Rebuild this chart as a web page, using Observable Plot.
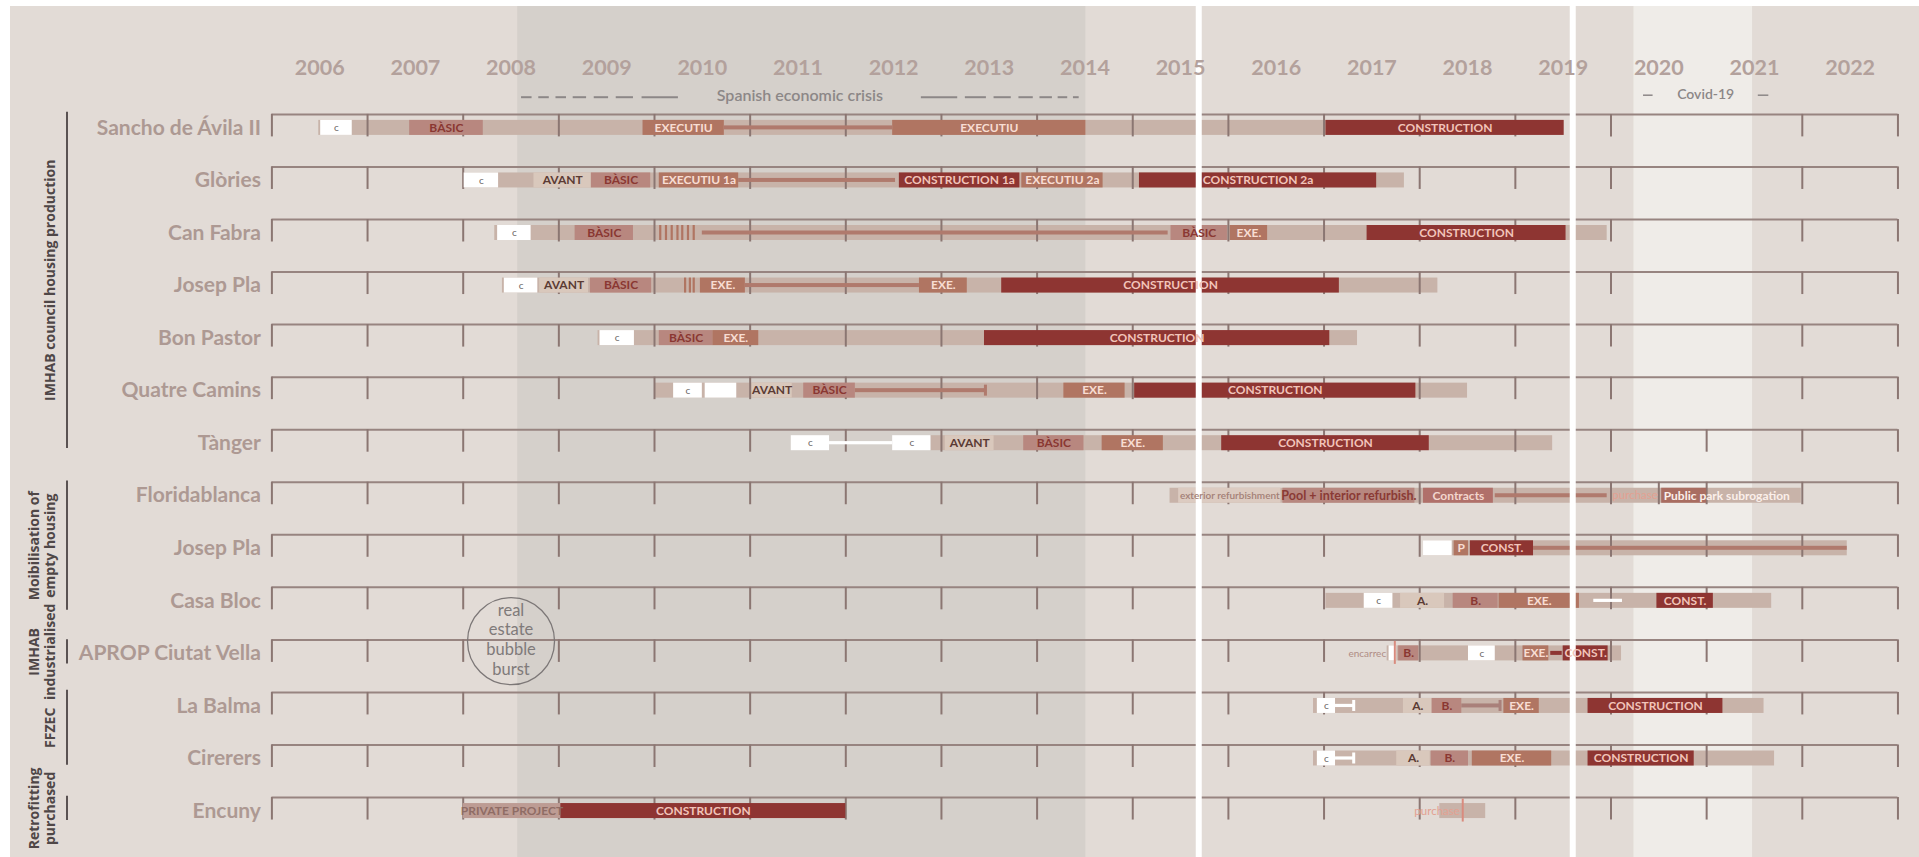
<!DOCTYPE html>
<html>
<head>
<meta charset="utf-8">
<script src="https://cdn.jsdelivr.net/npm/d3@7"></script>
<script src="https://cdn.jsdelivr.net/npm/@observablehq/plot@0.6"></script>
<style>
  html, body { margin: 0; padding: 0; background: #ffffff; overflow: hidden; }
  #chart { position: absolute; left: 10px; top: 6px; }
  #chart svg { display: block; max-width: none; }
</style>
</head>
<body>
<div id="chart"></div>
<script>
// ---------------- DATA ----------------
const rowNames = ["Sancho de Ávila II", "Glòries", "Can Fabra", "Josep Pla", "Bon Pastor", "Quatre Camins", "Tànger",
  "Floridablanca", "Josep Pla", "Casa Bloc", "APROP Ciutat Vella", "La Balma", "Cirerers", "Encuny"];

const groupLabels = ["IMHAB council housing production", "Moibilisation of\nempty housing", "IMHAB\nindustrialised", "FFZEC", "Retrofitting\npurchased"];
const groupFrom = [-0.3, 6.72, 9.74, 10.7, 12.72];
const groupTo = [6.1, 9.18, 10.2, 12.13, 13.18];

const yearLabels = [2006, 2007, 2008, 2009, 2010, 2011, 2012, 2013, 2014, 2015, 2016, 2017, 2018, 2019, 2020, 2021, 2022];
const tickYears = [2006, 2007, 2008, 2009, 2010, 2011, 2012, 2013, 2014, 2015, 2016, 2017, 2018, 2019, 2020, 2021, 2022, 2023];
const extraTicks = [[7, 2020.50]];

const crisisPeriod = [2008.57, 2014.51];
const covidPeriod = [2020.24, 2021.48];
const whiteDividers = [2015.69, 2019.60];

// overall span of each project (light bar): [row, start, end]
const spans = [
  [0, 2006.49, 2019.51], [1, 2008.00, 2017.84], [2, 2008.33, 2019.96], [3, 2008.41, 2018.19],
  [4, 2009.41, 2017.35], [5, 2010.01, 2018.50], [6, 2012.89, 2019.39], [7, 2015.39, 2021.99],
  [8, 2018.04, 2022.47], [9, 2017.02, 2021.68], [10, 2017.66, 2020.11], [11, 2016.89, 2021.60],
  [12, 2016.89, 2021.71], [13, 2018.21, 2018.69]
];

// phases: [row, start, end, kind, label]
const phases = [
  [0, 2006.51, 2006.84, "c", "c"], [0, 2007.44, 2008.21, "basic", "BÀSIC"], [0, 2009.88, 2010.73, "exec", "EXECUTIU"],
  [0, 2012.49, 2014.51, "exec", "EXECUTIU"], [0, 2017.02, 2019.51, "cons", "CONSTRUCTION"],
  [1, 2008.01, 2008.37, "c", "c"], [1, 2008.74, 2009.34, "avant", "AVANT"], [1, 2009.34, 2009.96, "basic", "BÀSIC"],
  [1, 2010.05, 2010.88, "exec", "EXECUTIU 1a"], [1, 2012.56, 2013.82, "cons", "CONSTRUCTION 1a"],
  [1, 2013.84, 2014.69, "exec", "EXECUTIU 2a"], [1, 2015.07, 2017.55, "cons", "CONSTRUCTION 2a"],
  [2, 2008.36, 2008.71, "c", "c"], [2, 2009.17, 2009.78, "basic", "BÀSIC"], [2, 2015.40, 2015.99, "basic", "BÀSIC"],
  [2, 2016.02, 2016.41, "exec", "EXE."], [2, 2017.45, 2019.53, "cons", "CONSTRUCTION"],
  [3, 2008.43, 2008.78, "c", "c"], [3, 2008.80, 2009.31, "avant", "AVANT"], [3, 2009.33, 2009.97, "basic", "BÀSIC"],
  [3, 2010.48, 2010.95, "exec", "EXE."], [3, 2012.77, 2013.27, "exec", "EXE."], [3, 2013.63, 2017.16, "cons", "CONSTRUCTION"],
  [4, 2009.43, 2009.79, "c", "c"], [4, 2010.05, 2010.61, "basic", "BÀSIC"], [4, 2010.61, 2011.09, "exec", "EXE."],
  [4, 2013.45, 2017.06, "cons", "CONSTRUCTION"],
  [5, 2010.20, 2010.50, "c", "c"], [5, 2010.53, 2010.86, "c", ""], [5, 2011.02, 2011.44, "avant", "AVANT"],
  [5, 2011.56, 2012.10, "basic", "BÀSIC"], [5, 2014.28, 2014.92, "exec", "EXE."], [5, 2015.02, 2017.96, "cons", "CONSTRUCTION"],
  [6, 2011.43, 2011.83, "c", "c"], [6, 2012.49, 2012.89, "c", "c"], [6, 2013.04, 2013.55, "avant", "AVANT"],
  [6, 2013.86, 2014.49, "basic", "BÀSIC"], [6, 2014.68, 2015.32, "exec", "EXE."], [6, 2015.93, 2018.10, "cons", "CONSTRUCTION"],
  [7, 2015.48, 2016.55, "pale", "exterior refurbishment"], [7, 2016.57, 2017.95, "pool", "Pool + interior refurbish."],
  [7, 2018.04, 2018.77, "contract", "Contracts"], [7, 2020.53, 2021.00, "park", "Public park subrogation"],
  [8, 2018.04, 2018.34, "c", ""], [8, 2018.36, 2018.51, "exec", "P"], [8, 2018.53, 2019.19, "cons", "CONST."],
  [9, 2017.42, 2017.72, "c", "c"], [9, 2017.80, 2018.26, "avant", "A."], [9, 2018.35, 2018.82, "basic", "B."],
  [9, 2018.83, 2019.67, "exec", "EXE."], [9, 2020.48, 2021.07, "cons", "CONST."],
  [10, 2017.68, 2017.76, "c", ""], [10, 2017.78, 2017.99, "basic", "B."], [10, 2018.51, 2018.79, "c", "c"],
  [10, 2019.08, 2019.35, "exec", "EXE."], [10, 2019.50, 2019.97, "cons", "CONST."],
  [11, 2016.93, 2017.12, "c", "c"], [11, 2017.83, 2018.13, "avant", "A."], [11, 2018.13, 2018.44, "basic", "B."],
  [11, 2018.88, 2019.25, "exec", "EXE."], [11, 2019.76, 2021.17, "cons", "CONSTRUCTION"],
  [12, 2016.93, 2017.12, "c", "c"], [12, 2017.76, 2018.11, "avant", "A."], [12, 2018.12, 2018.51, "basic", "B."],
  [12, 2018.55, 2019.38, "exec", "EXE."], [12, 2019.76, 2020.87, "cons", "CONSTRUCTION"],
  [13, 2008.00, 2009.02, "private", "PRIVATE PROJECT"], [13, 2009.02, 2012.00, "cons", "CONSTRUCTION"]
];

// waiting / link lines inside bars: [row, start, end, kind]
const links = [
  [0, 2010.73, 2012.49, "exec"], [1, 2010.88, 2012.52, "exec"], [2, 2010.50, 2015.37, "exec"],
  [3, 2010.95, 2012.77, "exec"], [5, 2012.10, 2013.46, "exec"], [6, 2011.83, 2012.49, "white"],
  [7, 2018.79, 2019.96, "exec"], [8, 2019.19, 2022.47, "exec"], [9, 2019.82, 2020.12, "white"],
  [10, 2019.37, 2019.49, "cons"], [11, 2017.12, 2017.31, "white"], [11, 2018.44, 2018.84, "basic"],
  [12, 2017.12, 2017.31, "white"]
];
// end caps of link lines: [row, year, kind]
const caps = [[5, 2013.46, "exec"], [11, 2017.31, "white"], [11, 2018.84, "basic"], [12, 2017.31, "white"]];
// vertical markers: [row, year]
const markers = [[10, 2017.74], [13, 2018.45]];
// hatch strokes: [row, year]
const hatches = [[2, 2010.06], [2, 2010.12], [2, 2010.18], [2, 2010.24], [2, 2010.29], [2, 2010.35], [2, 2010.41],
  [3, 2010.32], [3, 2010.37], [3, 2010.41]];
// side notes: [row, year, text]
const notes = [[10, 2017.66, "encarrec"], [7, 2020.50, "purchase"], [13, 2018.43, "purchase"]];

// period annotations
const crisisDashes = [[2008.61, 2008.72], [2008.79, 2008.90], [2008.97, 2009.08], [2009.15, 2009.29], [2009.37, 2009.52],
  [2009.60, 2009.78], [2009.87, 2010.25], [2012.79, 2013.17], [2013.25, 2013.47], [2013.55, 2013.73], [2013.81, 2013.96],
  [2014.03, 2014.16], [2014.22, 2014.32], [2014.38, 2014.44]];
const covidDashes = [[2020.34, 2020.44], [2021.54, 2021.65]];
const crisisLabel = {year: 2011.52, text: "Spanish economic crisis"};
const covidLabel = {year: 2020.99, text: "Covid-19"};
const bubble = {year: 2008.50, text: "real\nestate\nbubble\nburst"};

// ---------------- LAYOUT ----------------
const W = 1909, H = 851;
const X0 = 261.4, YEAR_W = 95.65, ROW_Y0 = 121.4, ROW_H = 52.55;
const HB = 7.5 / ROW_H;            // half bar height, in row units
const px = p => p / ROW_H;         // pixels -> row units
const xAt = p => 2006 + (p - X0) / YEAR_W;
const yAt = p => (p - ROW_Y0) / ROW_H;

const FILL = {c: "#ffffff", avant: "#d9c8bc", basic: "#b8877f", exec: "#b07562", cons: "#8e3532", pale: "#dccbc1",
  pool: "#b7877f", contract: "#b0706a", park: "#a96d61", private: "#bd9c94"};
const INK = {c: "#6b6767", avant: "#5b3b34", basic: "#8a3732", exec: "#f8ddd3", cons: "#f2c4ba", pale: "#a37f76",
  pool: "#8a3a35", contract: "#f3d6cd", park: "#fbefea", private: "#8f6c65"};
const LINK = {exec: "#b07a6d", white: "#ffffff", cons: "#8e3532", basic: "#a9807a"};

const spanData = spans.map(([row, start, end]) => ({row, start, end}));
const phaseData = phases.map(([row, start, end, kind, label]) => ({row, start, end, kind, label}));
const linkData = links.map(([row, start, end, kind]) => ({row, start, end, kind}));
const capData = caps.map(([row, year, kind]) => ({row, year, kind}));
const markerData = markers.map(([row, year]) => ({row, year}));
const hatchData = hatches.map(([row, year]) => ({row, year}));
const noteData = notes.map(([row, year, text]) => ({row, year, text}));
const rowIdx = rowNames.map((_, i) => i);
const tickData = [];
rowIdx.forEach(r => tickYears.forEach(y => { if (!(r <= 5 && y === 2021)) tickData.push({row: r, year: y}); }));
extraTicks.forEach(([row, year]) => tickData.push({row, year}));
const groupData = groupLabels.map((label, i) => ({label, from: groupFrom[i], to: groupTo[i]}));

const labelled = phaseData.filter(d => d.label);
const boldKinds = ["avant", "basic", "exec", "cons", "contract", "private"];

const chart = Plot.plot({
  width: W, height: H, margin: 0,
  x: {domain: [2006, 2023], range: [X0, X0 + 17 * YEAR_W], axis: null},
  y: {domain: [0, 13], range: [ROW_Y0, ROW_Y0 + 13 * ROW_H], axis: null},
  color: {type: "identity"},
  style: {background: "#e2dbd6", fontFamily: "Lato, sans-serif", overflow: "visible"},
  marks: [
    // periods
    Plot.rect([crisisPeriod], {x1: d => d[0], x2: d => d[1], fill: "#d5d0cb"}),
    Plot.rect([covidPeriod], {x1: d => d[0], x2: d => d[1], fill: "#efece8"}),
    // light project spans
    Plot.rect(spanData, {x1: "start", x2: "end", y1: d => d.row - HB, y2: d => d.row + HB, fill: "#c8b3a9"}),
    // row baselines and year ticks
    Plot.ruleY(rowIdx, {y: d => d - px(13.5), x1: () => 2006, x2: () => 2023, stroke: "#978480", strokeWidth: 2}),
    Plot.ruleX(tickData, {x: "year", y1: d => d.row - px(13.5), y2: d => d.row + px(9), stroke: "#8b7672", strokeWidth: 2}),
    // hatching
    Plot.ruleX(hatchData, {x: "year", y1: d => d.row - HB, y2: d => d.row + HB, stroke: "#b07562", strokeWidth: 2.2}),
    // phases
    Plot.rect(phaseData, {x1: "start", x2: "end", y1: d => d.row - HB, y2: d => d.row + HB, fill: d => FILL[d.kind]}),
    // link lines
    Plot.rect(linkData, {x1: "start", x2: "end", y1: d => d.row - px(d.kind === "white" ? 1.6 : 2), y2: d => d.row + px(d.kind === "white" ? 1.6 : 2), fill: d => LINK[d.kind]}),
    Plot.ruleX(capData, {x: "year", y1: d => d.row - px(5.5), y2: d => d.row + px(5.5), stroke: d => LINK[d.kind], strokeWidth: 3}),
    Plot.ruleX(markerData, {x: "year", y1: d => d.row - px(12), y2: d => d.row + px(11), stroke: "#d98b7e", strokeWidth: 2}),
    // white dividers
    Plot.ruleX(whiteDividers, {x: d => d, stroke: "#ffffff", strokeWidth: 6}),
    // phase labels
    Plot.text(labelled.filter(d => d.kind === "c"), {x: d => (d.start + d.end) / 2, y: "row", text: "label", fill: INK.c, fontSize: 10}),
    Plot.text(labelled.filter(d => boldKinds.includes(d.kind)), {x: d => (d.start + d.end) / 2, y: "row", text: "label", fill: d => INK[d.kind], fontSize: 12, fontWeight: 700}),
    Plot.text(labelled.filter(d => d.kind === "pale"), {x: d => (d.start + d.end) / 2, y: "row", text: "label", fill: INK.pale, fontSize: 10, fontWeight: 600}),
    Plot.text(labelled.filter(d => d.kind === "pool"), {x: d => (d.start + d.end) / 2, y: "row", text: "label", fill: INK.pool, fontSize: 12.5, fontWeight: 700}),
    Plot.text(labelled.filter(d => d.kind === "park"), {x: "start", y: "row", text: "label", fill: INK.park, fontSize: 12, fontWeight: 700, textAnchor: "start", dx: 2}),
    Plot.text(noteData, {x: "year", y: "row", text: "text", fill: d => d.text === "encarrec" ? "#b08c84" : "#e3a192", fontSize: d => d.text === "encarrec" ? 10 : 11.5, textAnchor: "end", dx: -1}),
    // row names
    Plot.text(rowIdx, {x: () => 2006, y: d => d, text: d => rowNames[d], textAnchor: "end", dx: -11, fill: "#ad9993", fontSize: 21, fontWeight: 700}),
    // year labels
    Plot.text(yearLabels, {x: d => d + 0.5, y: () => yAt(61.3), text: d => String(d), fill: "#b3a19c", fontSize: 21.5, fontWeight: 700}),
    // crisis annotation
    Plot.ruleY(crisisDashes, {x1: d => d[0], x2: d => d[1], y: () => yAt(90.7), stroke: "#8c8787", strokeWidth: 2}),
    Plot.text([crisisLabel], {x: "year", y: () => yAt(89), text: "text", fill: "#8c8787", fontSize: 16, fontWeight: 600}),
    // covid annotation
    Plot.ruleY(covidDashes, {x1: d => d[0], x2: d => d[1], y: () => yAt(88.7), stroke: "#8c8787", strokeWidth: 1.5}),
    Plot.text([covidLabel], {x: "year", y: () => yAt(88.5), text: "text", fill: "#8c8787", fontSize: 14, fontWeight: 600}),
    // bubble annotation
    Plot.dot([bubble], {x: "year", y: () => yAt(634.7), r: 43.5, stroke: "#7c7777", strokeWidth: 1.3, fill: "none"}),
    Plot.text([bubble], {x: "year", y: () => yAt(632.5), text: "text", fill: "#7f7a7a", fontSize: 16.5, lineHeight: 1.2}),
    // groups
    Plot.ruleX(groupData, {x: () => xAt(56.5), y1: "from", y2: "to", stroke: "#5a5252", strokeWidth: 2}),
    Plot.text(groupData, {x: () => xAt(44), y: d => (d.from + d.to) / 2, text: "label", rotate: -90, lineAnchor: "bottom",
      fill: "#4f4747", fontSize: 14, fontWeight: 700, lineHeight: 1.12, fontFamily: "'Open Sans', sans-serif"})
  ]
});
document.getElementById("chart").appendChild(chart);
</script>
</body>
</html>
